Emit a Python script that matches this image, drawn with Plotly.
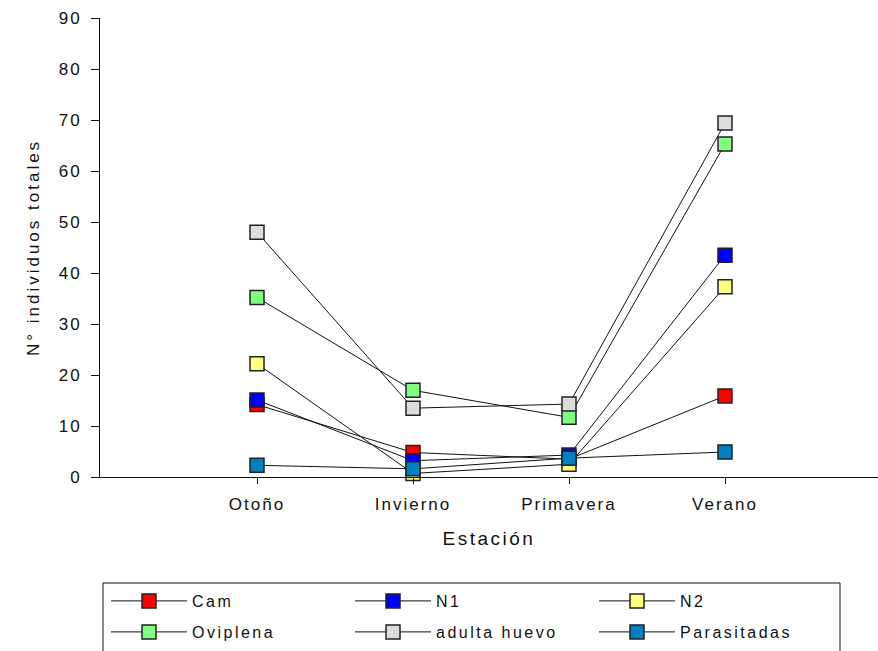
import plotly.graph_objects as go

# Seasons on the category axis
estaciones = ["Otoño", "Invierno", "Primavera", "Verano"]

# Total individuals per stage and season
cam = [14.2, 4.8, 3.5, 15.9]
n1 = [15.1, 3.2, 4.3, 43.5]
n2 = [22.2, 0.7, 2.5, 37.3]
oviplena = [35.2, 17.0, 11.7, 65.3]
adulta_huevo = [48.0, 13.5, 14.3, 69.4]
parasitadas = [2.3, 1.6, 3.7, 4.9]

series = [
    ("Cam", cam, "#FF0000"),
    ("N1", n1, "#0000FF"),
    ("N2", n2, "#FFFF80"),
    ("Oviplena", oviplena, "#80FF80"),
    ("adulta huevo", adulta_huevo, "#DDDDDD"),
    ("Parasitadas", parasitadas, "#0080C0"),
]

W, H = 878, 651
L, R, T, B = 100, 0, 18, 174
pw, ph = W - L - R, H - T - B


def px_x(p):
    return (p - L) / pw


def px_y(p):
    return (H - B - p) / ph


FONT = "Liberation Sans, Arial, sans-serif"
INK = "#111111"
xpos = list(range(len(estaciones)))

fig = go.Figure()
for i, (name, vals, color) in enumerate(series):
    fig.add_trace(go.Scatter(
        x=xpos, y=vals, name=name, mode="lines+markers",
        line=dict(color=INK, width=1),
        marker=dict(symbol="square", size=14, color=color,
                    line=dict(color="#222222", width=1.5)),
        legend="legend" if i < 3 else "legend2",
        cliponaxis=False,
    ))

legend_common = dict(
    orientation="h", xanchor="left", yanchor="middle",
    font=dict(family=FONT, size=16, color=INK),
    bgcolor="rgba(0,0,0,0)", borderwidth=0,
    entrywidth=153, entrywidthmode="pixels", itemwidth=76,
    itemclick=False, itemdoubleclick=False,
)

fig.update_layout(
    width=W, height=H,
    margin=dict(l=L, r=R, t=T, b=B),
    paper_bgcolor="white", plot_bgcolor="white",
    showlegend=True,
    font=dict(family=FONT, size=16, color=INK),
    legend=dict(x=px_x(106), y=px_y(601), **legend_common),
    legend2=dict(x=px_x(106), y=px_y(632), **legend_common),
    xaxis=dict(
        range=[(L - 257) / 156, (W - 257) / 156],
        tickmode="array", tickvals=xpos, ticktext=estaciones,
        ticks="outside", ticklen=6, tickwidth=1, tickcolor=INK,
        ticklabelstandoff=6,
        showline=True, linecolor=INK, linewidth=1,
        showgrid=False, zeroline=False,
        tickfont=dict(family=FONT, size=17, color=INK),
        title=dict(text="Estación", standoff=18,
                   font=dict(family=FONT, size=19, color=INK)),
    ),
    yaxis=dict(
        range=[0, 90], tickmode="linear", tick0=0, dtick=10,
        ticks="outside", ticklen=8, tickwidth=1, tickcolor=INK,
        ticklabelstandoff=6,
        showline=True, linecolor=INK, linewidth=1,
        showgrid=False, zeroline=False,
        tickfont=dict(family=FONT, size=17, color=INK),
        title=dict(text="N° individuos totales", standoff=18,
                   font=dict(family=FONT, size=17, color=INK)),
    ),
    shapes=[dict(
        type="rect", xref="paper", yref="paper",
        x0=px_x(103), x1=px_x(840), y0=px_y(583), y1=px_y(665),
        line=dict(color=INK, width=1), fillcolor="rgba(0,0,0,0)",
        layer="above",
    )],
)

# Wider letter spacing for the axis and legend text, as a page stylesheet
spacing_js = """
var css = document.createElement('style');
css.textContent =
  '.xtick text, .ytick text { letter-spacing: 2px; }' +
  '.g-xtitle text { letter-spacing: 2.5px; }' +
  '.g-ytitle text { letter-spacing: 3px; }' +
  'text.legendtext, [class*="legend"] text { letter-spacing: 2.5px !important; }';
document.head.appendChild(css);
function widenLegend() {
  document.querySelectorAll('[class*="legend"] text').forEach(function (t) {
    t.style.letterSpacing = '2.5px';
  });
}
widenLegend();
setTimeout(widenLegend, 50);
setTimeout(widenLegend, 300);
"""

fig.write_html("out.html", post_script=spacing_js)
